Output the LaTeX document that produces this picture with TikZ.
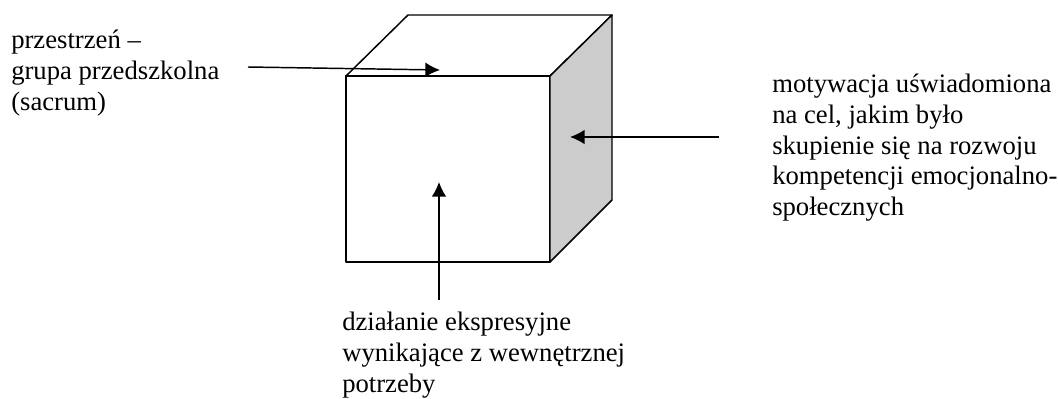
\documentclass[tikz,border=0pt]{standalone}
\usepackage{fontspec}
\setmainfont{Liberation Serif}
\usetikzlibrary{arrows.meta, positioning}
\definecolor{sidegray}{gray}{0.8}
\tikzset{
  face/.style={draw, line width=1.1pt, line join=round},
  arrow/.style={-{Latex[length=11pt, width=11pt]}, line width=1.1pt},
  label/.style={
    align=left,
    anchor=north west,
    inner sep=0pt,
    font=\fontsize{20}{23}\selectfont
  }
}

\begin{document}
\begin{tikzpicture}[x=0.75pt, y=-0.75pt]
  \useasboundingbox (0,0) rectangle (1058,399);

  % cube corners
  \coordinate (fronttl) at (346,76);
  \coordinate (fronttr) at (550,76);
  \coordinate (frontbr) at (550,262);
  \coordinate (frontbl) at (346,262);
  \coordinate (backtl) at (408,15);
  \coordinate (backtr) at (612,15);
  \coordinate (backbr) at (612,200);

  \draw[face] (fronttl) -- (fronttr) -- (frontbr) -- (frontbl) -- cycle;
  \draw[face] (fronttl) -- (backtl) -- (backtr) -- (fronttr) -- cycle;
  \draw[face, fill=sidegray] (fronttr) -- (backtr) -- (backbr) -- (frontbr) -- cycle;

  \node[label] (space) at (11,30) {przestrzeń --\\grupa przedszkolna\\(sacrum)};
  \node[label] (motive) at (772,74) {motywacja uświadomiona\\na cel, jakim było\\skupienie się na rozwoju\\kompetencji emocjonalno-\\społecznych};
  \node[label] (action) at (342,312) {działanie ekspresyjne\\wynikające z wewnętrznej\\potrzeby};

  % arrows
  \coordinate (spacestart) at (248,67);
  \coordinate (spaceend) at (440,70);
  \coordinate (motivestart) at (719,137);
  \coordinate (motiveend) at (570,137);
  \coordinate (actionstart) at (439,300);
  \coordinate (actionend) at (439,182);

  \draw[arrow] (spacestart) -- (spaceend);
  \draw[arrow] (motivestart) -- (motiveend);
  \draw[arrow] (actionstart) -- (actionend);
\end{tikzpicture}
\end{document}
